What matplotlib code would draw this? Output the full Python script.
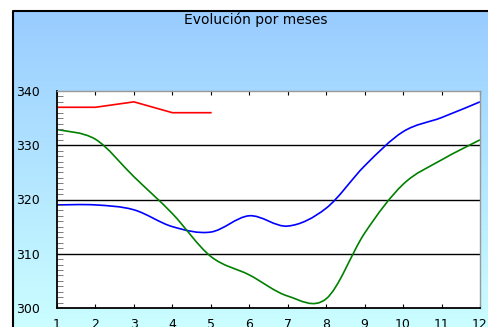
import matplotlib.pyplot as plt
import numpy as np
from matplotlib.path import Path
from matplotlib.patches import PathPatch

plt.rcParams['font.family'] = ['DejaVu Sans']

# Datos
meses = np.arange(1, 13)
serie_azul = [319.0, 319.0, 318.1, 315.0, 314.0, 317.0, 315.1, 318.4, 326.2, 332.5, 335.1, 338.0]
serie_verde = [332.9, 331.1, 324.2, 317.4, 309.5, 306.1, 302.2, 301.7, 313.8, 322.8, 327.3, 331.0]
meses_rojo = [1, 2, 3, 4, 5]
serie_roja = [337.0, 337.0, 338.0, 336.0, 336.0]
yticks = [300, 310, 320, 330, 340]


def suave(x, y):
    # curva suavizada tipo Excel (Bezier con tension 1/6)
    p = np.column_stack([x, y]).astype(float)
    n = len(p)
    verts = [p[0]]
    codes = [Path.MOVETO]
    for i in range(n - 1):
        a = p[i - 1] if i > 0 else p[i]
        d = p[i + 2] if i + 2 < n else p[i + 1]
        c1 = p[i] + (p[i + 1] - a) / 6
        c2 = p[i + 1] - (d - p[i]) / 6
        verts += [c1, c2, p[i + 1]]
        codes += [Path.CURVE4] * 3
    return Path(verts, codes)


W, H = 489, 327
fig = plt.figure(figsize=(W / 100, H / 100), dpi=100)

# fondo degradado
bg = fig.add_axes([0, 0, 1, 1], zorder=-10)
bg.set_xlim(0, W)
bg.set_ylim(H, 0)
bg.axis('off')
grad = np.linspace(0, 1, 256)[:, None]
c_top = np.array([153, 204, 255]) / 255
c_bot = np.array([204, 255, 255]) / 255
img = c_top + grad[:, :, None] * (c_bot - c_top)
img = np.repeat(img, 2, axis=1)
bg.imshow(img, extent=[13, W + 5, H + 5, 11], aspect='auto')
bg.plot([13, 13, W + 5], [H + 5, 11, 11], color='black', lw=1.5)
bg.text(256, 20, 'Evolución por meses', ha='center', va='center', fontsize=10)

ax = fig.add_axes([57 / W, 1 - 308 / H, (480 - 57) / W, (308 - 91) / H])
ax.set_facecolor('white')

ax.add_patch(PathPatch(suave(meses, serie_azul), fill=False, color='#0000FF', lw=1.2))
ax.add_patch(PathPatch(suave(meses, serie_verde), fill=False, color='#008000', lw=1.2))
ax.plot(meses_rojo, serie_roja, color='#FF0000', lw=1.2)

ax.set_xlim(1, 12)
ax.set_ylim(300, 340)
ax.set_xticks(meses)
ax.set_yticks(yticks)
ax.set_yticks(np.arange(300, 341, 1), minor=True)
for yv in yticks[1:-1]:
    ax.axhline(yv, color='black', lw=1, zorder=0.5)

for s in ['top', 'right']:
    ax.spines[s].set_color('#999999')
    ax.spines[s].set_linewidth(1)
for s in ['left', 'bottom']:
    ax.spines[s].set_color('black')
    ax.spines[s].set_linewidth(1.3)

ax.tick_params(axis='x', direction='in', length=3, width=0.8, top=True, pad=7, labelsize=9)
ax.tick_params(axis='y', which='major', length=0, pad=29.5, labelsize=9)
ax.tick_params(axis='y', which='minor', direction='in', length=4, width=0.6, color='#666666')
for lbl in ax.get_yticklabels():
    lbl.set_horizontalalignment('left')

fig.savefig('out.png', dpi=100)
